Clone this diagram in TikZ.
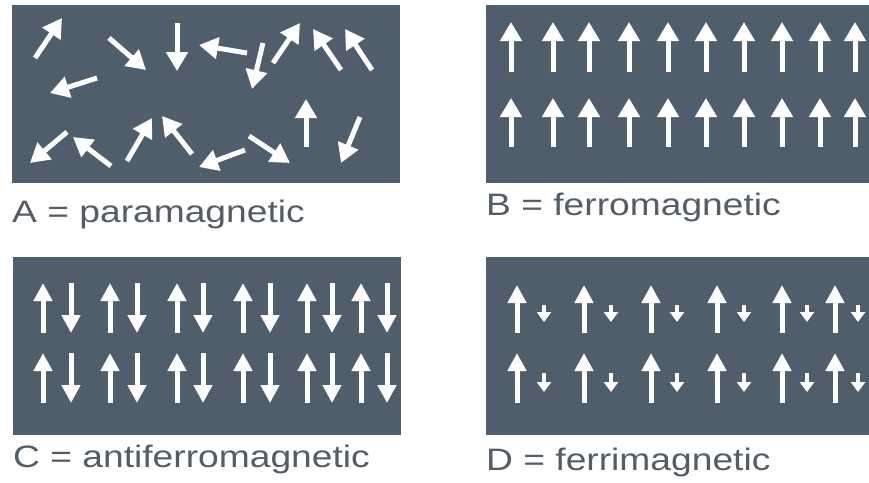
\documentclass[tikz,border=0pt]{standalone}
\usepackage{fontspec}
\setmainfont{Liberation Sans}
\usetikzlibrary{arrows.meta}

\definecolor{panelgrey}{RGB}{80,94,107}
\definecolor{labelgrey}{RGB}{84,92,100}

\tikzset{
  panel/.style={fill=panelgrey},
  spin/.style={white, line width=5pt, -{Triangle[width=21pt,length=19pt]}},
  spinmid/.style={white, line width=5pt, -{Triangle[width=18pt,length=18pt]}},
  spinsmall/.style={white, line width=3.5pt, -{Triangle[width=14pt,length=10pt]}},
  caption/.style={anchor=base west, inner sep=0pt, text=labelgrey, font=\fontsize{31}{31}\selectfont}
}

\begin{document}
\begin{tikzpicture}[x=1pt, y=-1pt]
        \useasboundingbox (0,0) rectangle (869,482);

        %% The four panels
        \fill [panel] (12,5) rectangle (400,183);
        \fill [panel] (486,5) rectangle (869,183);
        \fill [panel] (13,257) rectangle (401,435);
        \fill [panel] (486,257) rectangle (869,435);

        %% A: random spins (start / tip)
        \foreach \sx/\sy/\tx/\ty in {35/58/62/18, 109/38/146/70, 177/23/177/71,
            247/53/199/45, 263/43/252/89, 273/63/300/23, 341/70/313/29,
            372/70/345/29, 97/78/50/93, 67/132/30/163, 111/166/73/137,
            127/161/152/118, 192/154/162/116, 245/150/199/167,
            249/136/290/163, 306/147/306/99, 360/117/341/163}
            \draw [spin] (\sx,\sy) -- (\tx,\ty);

        %% B: all spins up
        \foreach \x in {511,553,589,629,668,706,744,782,820,855} {
            \draw [spin] (\x,72) -- (\x,22);
            \draw [spin] (\x,147) -- (\x,98);
        }

        %% C: up / down pairs
        \foreach \u/\d in {43/71, 110/137, 177/203, 243/270, 307/332, 361/387} {
            \draw [spinmid] (\u,333) -- (\u,283);
            \draw [spinmid] (\d,283) -- (\d,333);
            \draw [spinmid] (\u,403) -- (\u,353);
            \draw [spinmid] (\d,353) -- (\d,403);
        }

        %% D: big up, small down
        \foreach \u/\d in {517/544, 584/611, 651/677, 717/744, 782/807, 835/858} {
            \draw [spinmid] (\u,333) -- (\u,285);
            \draw [spinsmall] (\d,305) -- (\d,322);
            \draw [spinmid] (\u,403) -- (\u,353);
            \draw [spinsmall] (\d,373) -- (\d,392);
        }

        %% Captions
        \node (labelA) [caption] at (12,222) {\scalebox{1.2}[1]{A = paramagnetic}};
        \node (labelB) [caption] at (486,215) {\scalebox{1.2}[1]{B = ferromagnetic}};
        \node (labelC) [caption] at (13,467) {\scalebox{1.2}[1]{C = antiferromagnetic}};
        \node (labelD) [caption] at (486,470) {\scalebox{1.2}[1]{D = ferrimagnetic}};
\end{tikzpicture}
\end{document}
